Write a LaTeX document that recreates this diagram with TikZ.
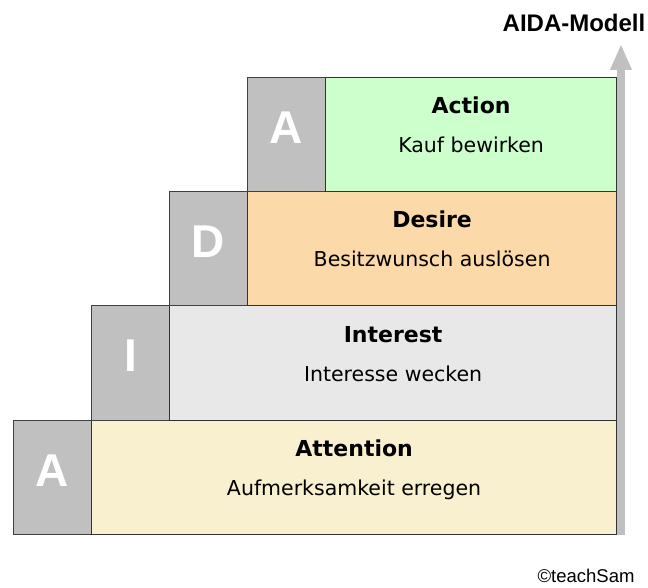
\documentclass[tikz,border=0pt]{standalone}
\usepackage{fontspec}
\setmainfont{DejaVu Sans}
\newfontfamily\arialfont{Liberation Sans}
\usetikzlibrary{arrows.meta}
\definecolor{grau}{HTML}{C0C0C0}
\definecolor{attfarbe}{HTML}{F8F0CE}
\definecolor{intfarbe}{HTML}{E8E8E8}
\definecolor{desfarbe}{HTML}{FCD9A8}
\definecolor{actfarbe}{HTML}{CCFFCC}
\begin{document}
\begin{tikzpicture}
    [x=1pt,y=1pt,
     buchst/.style={draw=black!75,line width=1.2pt,fill=grau,anchor=south west,
       inner sep=0pt,minimum width=78pt,minimum height=114.25pt},
     stufe/.style={draw=black!80,line width=1.2pt,anchor=south west,
       inner sep=0pt,minimum height=114.25pt},
     gross/.style={text=white,yshift=7pt,font=\arialfont\bfseries\fontsize{46}{50}\selectfont},
     titel/.style={anchor=base,font=\bfseries\fontsize{22}{26}\selectfont},
     unter/.style={anchor=base,font=\fontsize{20.5}{24}\selectfont}]
    \useasboundingbox (0,0) rectangle (648,587);
    % Pfeil
    \coordinate (fuss) at (621,52);
    \coordinate (spitze) at (621,543);
    \draw [grau,line width=8pt,-{Triangle[length=26pt,width=20pt]}] (fuss) -- (spitze);
    % Stufen
    \node [buchst] (b1) [label={[gross]center:A}] at (13,52) {};
    \node [stufe,fill=attfarbe,minimum width=525pt] (att) at (91,52) {};
    \node [buchst] (b2) [label={[gross]center:I}] at (91,166.25) {};
    \node [stufe,fill=intfarbe,minimum width=447pt] (int) at (169,166.25) {};
    \node [buchst] (b3) [label={[gross]center:D}] at (169,280.5) {};
    \node [stufe,fill=desfarbe,minimum width=369pt] (des) at (247,280.5) {};
    \node [buchst] (b4) [label={[gross]center:A}] at (247,394.75) {};
    \node [stufe,fill=actfarbe,minimum width=291pt] (act) at (325,394.75) {};
    % Texte
    \node [titel] (tatt) at ([yshift=21pt]att.center) {Attention};
    \node [unter] (uatt) at ([yshift=-18pt]att.center) {Aufmerksamkeit erregen};
    \node [titel] (tint) at ([yshift=21pt]int.center) {Interest};
    \node [unter] (uint) at ([yshift=-18pt]int.center) {Interesse wecken};
    \node [titel] (tdes) at ([yshift=21pt]des.center) {Desire};
    \node [unter] (udes) at ([yshift=-18pt]des.center) {Besitzwunsch auslösen};
    \node [titel] (tact) at ([yshift=21pt]act.center) {Action};
    \node [unter] (uact) at ([yshift=-18pt]act.center) {Kauf bewirken};
    \node [anchor=base,font=\arialfont\bfseries\fontsize{24}{28}\selectfont] (modell) at (574,555) {AIDA-Modell};
    \node [anchor=base,font=\arialfont\fontsize{18.5}{21}\selectfont] (copy) at (586,5) {©teachSam};
\end{tikzpicture}
\end{document}
